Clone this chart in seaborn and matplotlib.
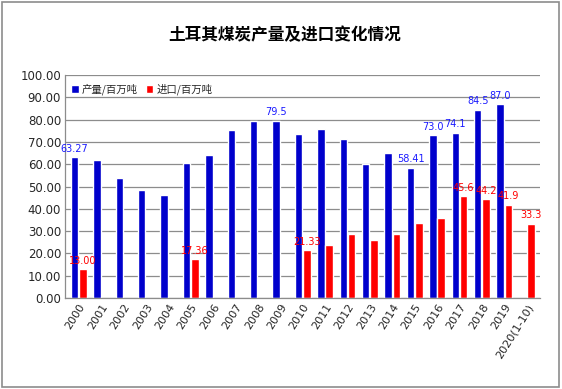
import numpy as np
import pandas as pd
import matplotlib
matplotlib.use("Agg")
import matplotlib.pyplot as plt
import seaborn as sns
from matplotlib.patches import Rectangle

# data
years = ['2000', '2001', '2002', '2003', '2004', '2005', '2006', '2007', '2008', '2009',
         '2010', '2011', '2012', '2013', '2014', '2015', '2016', '2017', '2018', '2019',
         '2020(1-10)']
production = [63.27, 61.9, 53.9, 48.5, 46.3, 60.5, 64.1, 75.2, 79.2, 79.5,
              73.4, 75.7, 71.2, 60.1, 65.0, 58.41, 73.0, 74.1, 84.5, 87.0, np.nan]
imports = [13.0, np.nan, np.nan, np.nan, np.nan, 17.36, np.nan, np.nan, np.nan, np.nan,
           21.33, 23.6, 28.5, 25.8, 28.9, 33.8, 36.1, 45.6, 44.2, 41.9, 33.3]

prod_labels = {'2000': '63.27', '2009': '79.5', '2015': '58.41', '2016': '73.0',
               '2017': '74.1', '2018': '84.5', '2019': '87.0'}
imp_labels = {'2000': '13.00', '2005': '17.36', '2010': '21.33', '2017': '45.6',
              '2018': '44.2', '2019': '41.9', '2020(1-10)': '33.3'}

s_prod = '产量/百万吨'
s_imp = '进口/百万吨'

df = pd.DataFrame({'year': years * 2,
                   'value': production + imports,
                   'series': [s_prod] * len(years) + [s_imp] * len(years)})

sns.set_style('white')
plt.rcParams['font.family'] = ['Noto Sans CJK SC', 'DejaVu Sans']

fig = plt.figure(figsize=(5.62, 3.89), dpi=100)
ax = fig.add_axes([0.116, 0.234, 0.845, 0.573])

sns.barplot(data=df, x='year', y='value', hue='series', order=years,
            hue_order=[s_prod, s_imp], palette=['#0000CC', '#FF0000'],
            width=0.74, gap=0.1, saturation=1, ax=ax)

# value labels
blue_col = '#1a1aff'
for i, y in enumerate(years):
    if y in prod_labels:
        ax.text(i - 0.18, production[i] + 1.5, prod_labels[y], ha='center', va='bottom',
                fontsize=7, color=blue_col, family='DejaVu Sans')
    if y in imp_labels:
        ax.text(i + 0.18, imports[i] + 1.5, imp_labels[y], ha='center', va='bottom',
                fontsize=7, color='#FF0000', family='DejaVu Sans')

ax.set_ylim(0, 100)
ax.set_xlim(-0.6, len(years) - 0.4)
ax.set_yticks(np.arange(0, 101, 10))
ax.set_yticklabels([f'{v:.2f}' for v in np.arange(0, 101, 10)], fontsize=8.5,
                   family='DejaVu Sans')
ax.set_xticks(range(len(years)))
ax.set_xticklabels(years, rotation=58, ha='right', rotation_mode='anchor', fontsize=8,
                   family='DejaVu Sans')
ax.tick_params(axis='both', length=0, pad=3)
ax.set_xlabel('')
ax.set_ylabel('')
ax.grid(axis='y', color='#8c8c8c', linewidth=0.9)
ax.set_axisbelow(True)
for side in ['top', 'right']:
    ax.spines[side].set_visible(False)
for side in ['left', 'bottom']:
    ax.spines[side].set_color('#8c8c8c')
    ax.spines[side].set_linewidth(0.9)

leg = ax.legend(loc='upper left', bbox_to_anchor=(0.0, 0.99), ncol=2, frameon=False,
                fontsize=7.5, handlelength=0.7, handleheight=0.7, handletextpad=0.3,
                columnspacing=0.8, borderaxespad=0.2)

fig.text(0.507, 0.91, '土耳其煤炭产量及进口变化情况', ha='center', va='center',
         fontsize=12, fontweight='bold', color='#000000')

fig.patches.append(Rectangle((0.003, 0.004), 0.992, 0.99, transform=fig.transFigure,
                             fill=False, edgecolor='#8c8c8c', linewidth=1.2))

fig.savefig('out.png', dpi=100)
